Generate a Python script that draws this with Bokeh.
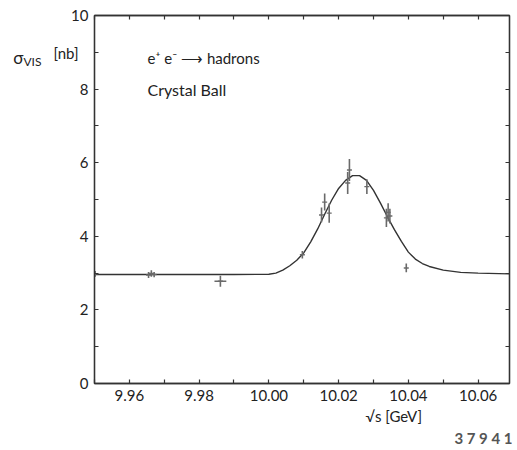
from bokeh.plotting import figure
from bokeh.models import FixedTicker, LinearAxis, Label, Range1d, Title
from bokeh.embed import file_html
from bokeh.resources import INLINE

# ---- data ----
x_data = [9.9502, 9.9655, 9.9663, 9.9671, 9.9861, 10.0096, 10.0151, 10.0160, 10.0173,
          10.0226, 10.0231, 10.0281, 10.0337, 10.0342, 10.0347, 10.0394]
y_data = [2.98, 2.95, 2.99, 2.96, 2.78, 3.50, 4.58, 4.93, 4.63,
          5.45, 5.80, 5.35, 4.50, 4.65, 4.55, 3.14]
y_err = [0.08, 0.08, 0.09, 0.07, 0.15, 0.10, 0.20, 0.23, 0.26,
         0.30, 0.30, 0.20, 0.25, 0.25, 0.20, 0.12]
x_err = [0, 0, 0, 0, 0.0017, 0, 0, 0, 0, 0, 0, 0, 0, 0, 0, 0]

fit_x = [9.950, 9.970, 9.990, 10.000, 10.002, 10.004, 10.006, 10.008, 10.010, 10.012,
         10.014, 10.016, 10.018, 10.020, 10.022, 10.024, 10.026, 10.028, 10.030,
         10.032, 10.034, 10.036, 10.038, 10.040, 10.042, 10.044, 10.046, 10.050,
         10.055, 10.060, 10.069]
fit_y = [2.96, 2.96, 2.96, 2.97, 3.00, 3.08, 3.20, 3.35, 3.55, 3.85,
         4.20, 4.60, 4.98, 5.30, 5.52, 5.65, 5.65, 5.52, 5.25,
         4.90, 4.53, 4.18, 3.86, 3.57, 3.38, 3.26, 3.18, 3.08,
         3.02, 3.00, 2.98]

x_ticks = [9.95, 9.96, 9.97, 9.98, 9.99, 10.00, 10.01, 10.02, 10.03, 10.04, 10.05, 10.06]
x_tick_labels = {9.96: "9.96", 9.98: "9.98", 10.00: "10.00", 10.02: "10.02",
                 10.04: "10.04", 10.06: "10.06"}
y_ticks = [0, 1, 2, 3, 4, 5, 6, 7, 8, 9, 10]
y_tick_labels = {0: "0", 2: "2", 4: "4", 6: "6", 8: "8", 10: "10"}

# y-axis title pieces: text, y value where each piece sits, size, standoff
ytitle_parts = [("[nb]", 8.97, "15px", -10), ("VIS", 8.76, "12px", 9), ("σ", 8.86, "17px", -3)]

FONT = "Lato"
INK = "#333333"
PTS = "#6a6a6a"
TXT = "#222222"

p = figure(width=512, height=446, output_backend="svg", toolbar_location=None,
           x_range=Range1d(9.95, 10.069), y_range=Range1d(0, 10),
           min_border_left=94, min_border_right=3, min_border_top=15, min_border_bottom=20)
p.grid.visible = False
p.outline_line_color = INK
p.outline_line_width = 1.3
p.background_fill_color = "white"
p.border_fill_color = "white"

def style_axis(ax, ticks, labels, show_labels=True):
    ax.ticker = FixedTicker(ticks=ticks)
    if show_labels:
        ax.major_label_overrides = {t: labels.get(round(t, 2), "") for t in ticks}
    else:
        ax.major_label_overrides = {t: "" for t in ticks}
    ax.minor_tick_line_color = None
    ax.major_tick_in = 4
    ax.major_tick_out = 0
    ax.major_tick_line_color = INK
    ax.major_tick_line_width = 1.2
    ax.axis_line_color = INK
    ax.axis_line_width = 1.3
    ax.major_label_text_font = FONT
    ax.major_label_text_font_size = "15px" if show_labels else "0px"
    ax.major_label_text_color = TXT
    ax.major_label_standoff = 6 if show_labels else 0

style_axis(p.xaxis[0], x_ticks, x_tick_labels)
style_axis(p.yaxis[0], y_ticks, y_tick_labels)

top = LinearAxis()
right = LinearAxis()
p.add_layout(top, "above")
p.add_layout(right, "right")
style_axis(top, x_ticks, x_tick_labels, show_labels=False)
style_axis(right, y_ticks, y_tick_labels, show_labels=False)

# y-axis title built from extra (line-less) left axes, stacked outward
for text, yv, size, so in ytitle_parts:
    ax = LinearAxis(ticker=FixedTicker(ticks=[yv]),
                    major_label_overrides={yv: text})
    ax.axis_line_color = None
    ax.major_tick_line_color = None
    ax.minor_tick_line_color = None
    ax.major_tick_in = 0
    ax.major_tick_out = 0
    ax.major_label_standoff = so
    ax.major_label_text_font = FONT
    ax.major_label_text_font_size = size
    ax.major_label_text_color = TXT
    p.add_layout(ax, "left")

# x-axis title and figure number below
t1 = Title(text="√s [GeV]", align="left", offset=271, text_font=FONT,
           text_font_size="15px", text_font_style="normal", text_color=TXT, standoff=3)
t2 = Title(text="3 7 9 4 1", align="right", offset=-3, text_font=FONT,
           text_font_size="15px", text_font_style="bold", text_color="#555555", standoff=0)
p.add_layout(t1, "below")
p.add_layout(t2, "below")

# fitted curve
p.line(fit_x, fit_y, line_color=INK, line_width=1.4)

# error bars
p.segment(x0=x_data, y0=[y - e for y, e in zip(y_data, y_err)],
          x1=x_data, y1=[y + e for y, e in zip(y_data, y_err)],
          line_color=PTS, line_width=1.6)
p.segment(x0=[x - e for x, e in zip(x_data, x_err)], y0=y_data,
          x1=[x + e for x, e in zip(x_data, x_err)], y1=y_data,
          line_color=PTS, line_width=1.4)
p.scatter(x_data, y_data, marker="dash", size=5, line_color=PTS, line_width=1.4)

def lab(x, y, text, size="15px", font=FONT):
    p.add_layout(Label(x=x, y=y, text=text, text_font=font, text_font_size=size,
                       text_align="left", text_baseline="middle", text_color=TXT))

lab(9.9652, 8.84, "e⁺ e⁻ ⟶ hadrons", size="15px")
lab(9.9652, 7.99, "Crystal Ball", size="16px")

open("out.html", "w").write(file_html(p, INLINE))
